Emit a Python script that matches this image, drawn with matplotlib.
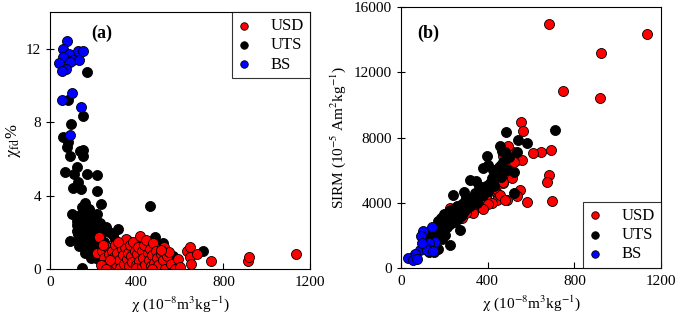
import numpy as np
import matplotlib
matplotlib.use("Agg")
import matplotlib.pyplot as plt

plt.rcParams['font.family'] = 'serif'
plt.rcParams['font.serif'] = ['Liberation Serif']
plt.rcParams['mathtext.fontset'] = 'stix'

# Panel (a): chi vs chi_fd%
a_bs_x = [77, 58, 131, 154, 88, 62, 108, 135, 43, 92, 74, 57, 103, 54, 142, 92]
a_bs_y = [12.4, 12.0, 11.9, 11.9, 11.7, 11.55, 11.4, 11.4, 11.25, 11.3, 10.9, 10.8, 9.6, 9.2, 8.85, 7.3]

a_uts_x = [172, 85, 151, 95, 62, 85, 77, 151, 138, 92, 151, 69, 123, 111, 172, 218, 131, 108, 142,
           215, 161, 234, 146, 181, 461, 100, 138, 215, 123, 169, 192, 146, 177, 200, 231, 258, 315,
           123, 154, 185, 215, 92, 292, 135, 161, 203, 246, 146, 485, 523, 354, 708, 569, 385, 431,
           160, 165, 170, 175, 180, 185, 190, 195, 200, 205, 210, 215, 220, 225, 230, 240, 250, 260,
           270, 280, 300, 320, 150, 155, 140, 130, 125, 135, 145, 170, 190, 210, 230]
a_uts_y = [10.75, 9.2, 8.35, 7.9, 7.2, 6.9, 6.65, 6.5, 6.45, 6.15, 6.15, 5.3, 5.55, 5.2, 5.2, 5.1, 4.75,
           4.4, 4.35, 4.25, 3.6, 3.55, 3.4, 3.3, 3.45, 3.0, 2.95, 3.0, 2.6, 2.65, 2.85, 2.3, 2.1, 2.3,
           2.5, 2.3, 2.2, 2.05, 1.75, 1.6, 1.85, 1.55, 1.85, 1.25, 0.9, 0.7, 1.4, 0.05, 1.75, 1.4, 1.6,
           1.0, 0.7, 1.05, 1.4, 2.0, 2.8, 1.2, 2.5, 1.9, 3.1, 2.2, 1.5, 2.7, 1.1, 2.0, 1.6, 2.4, 1.0,
           1.8, 2.1, 1.5, 1.2, 2.0, 0.9, 1.6, 1.3, 1.3, 2.3, 2.1, 1.9, 2.4, 1.6, 2.7, 3.0, 0.6, 0.6, 0.5]

a_usd_x = [228, 215, 240, 250, 255, 265, 270, 280, 285, 290, 295, 300, 305, 310, 320, 325, 330, 335,
           340, 345, 350, 355, 360, 365, 370, 375, 380, 385, 390, 395, 400, 405, 410, 415, 420, 425,
           430, 435, 440, 445, 450, 455, 460, 465, 470, 475, 480, 490, 495, 500, 510, 520, 525, 530,
           540, 550, 560, 575, 590, 600, 630, 645, 648, 650, 680, 745, 915, 920, 1135, 235, 260, 245,
           275, 315, 398, 470, 510]
a_usd_y = [1.75, 0.9, 1.0, 0.6, 0.2, 1.2, 0.8, 0.4, 1.0, 0.1, 0.65, 1.3, 0.3, 0.9, 0.5, 0.05, 1.1, 0.75,
           0.3, 1.2, 1.65, 0.55, 0.9, 0.15, 1.3, 0.7, 0.4, 1.5, 1.0, 0.2, 0.8, 1.2, 0.45, 1.8, 0.05, 1.0,
           0.6, 1.3, 0.25, 1.6, 0.9, 0.5, 1.1, 0.15, 0.75, 1.4, 0.35, 1.0, 0.6, 0.2, 0.85, 0.5, 1.2, 0.0,
           0.7, 0.95, 0.3, 0.0, 0.55, 0.1, 1.0, 1.2, 0.65, 0.3, 0.8, 0.45, 0.45, 0.65, 0.8, 0.2, 0.0, 1.3,
           0.5, 1.5, 0.05, 0.0, 1.05]

# Panel (b): chi vs SIRM
b_bs_x = [142, 100, 92, 157, 131, 115, 88, 65, 49, 34, 57, 75, 122, 149, 97]
b_bs_y = [2490, 2250, 1980, 1590, 1530, 1225, 1125, 880, 610, 610, 510, 550, 1120, 1080, 1570]

b_uts_x = [100, 110, 120, 130, 140, 150, 155, 160, 165, 170, 175, 180, 185, 190, 195, 200, 205, 210,
           215, 220, 225, 230, 235, 240, 245, 250, 255, 260, 265, 270, 275, 280, 285, 290, 295, 300,
           305, 310, 320, 330, 340, 350, 360, 370, 380, 390, 400, 410, 420, 430, 440, 450, 460, 470,
           480, 490, 500, 520, 520, 534, 541, 580, 711, 485, 457, 468, 395, 403, 380, 426, 318, 346,
           241, 291, 272, 226, 170, 150, 190, 205, 130, 360, 300]
b_uts_y = [1400, 1800, 1500, 2100, 1700, 2300, 1900, 2600, 2200, 2900, 2400, 2000, 3100, 2600, 2300,
           3300, 2800, 2500, 3000, 3500, 2700, 3200, 2900, 3600, 3100, 2800, 3400, 3800, 3000, 3500,
           3200, 3900, 3400, 3700, 4100, 3600, 3900, 4300, 3800, 4200, 4600, 4000, 4400, 4800, 4500,
           5000, 4700, 5200, 5500, 5000, 5800, 6200, 5600, 6500, 7100, 6000, 6800, 5900, 4600, 7100,
           7870, 7660, 8440, 8320, 7460, 7150, 6840, 6330, 6130, 6030, 5410, 5310, 4490, 4640, 2350,
           1430, 1200, 1000, 1800, 2000, 1000, 5000, 4300]

b_usd_x = [685, 1134, 923, 746, 918, 554, 565, 648, 608, 694, 683, 672, 697, 583, 549, 534, 518, 534,
           511, 557, 495, 472, 488, 441, 426, 472, 441, 441, 488, 395, 365, 349, 334, 303, 272, 226,
           330, 350, 370, 390, 410, 420, 440, 455, 470, 480, 485, 500, 510, 520, 460, 430, 400, 380,
           250, 280, 300, 230]
b_usd_y = [14975, 14320, 13180, 10830, 10400, 8970, 8380, 7090, 7050, 7250, 5720, 5250, 4090, 4025,
           4800, 4390, 7090, 6640, 6435, 6640, 7500, 6840, 5820, 5925, 5410, 5210, 4600, 4190, 4190,
           4190, 4390, 3780, 3470, 3680, 3575, 3680, 3400, 3900, 4100, 4300, 4700, 4000, 5000, 4500,
           5300, 4200, 5900, 6200, 5500, 6500, 6300, 4900, 3900, 3600, 3300, 3100, 3400, 3550]

RED = '#ff0000'
BLUE = '#0000ff'
S = 52
EW = 0.6
XLABEL = r'$\mathrm{\chi}$ (10$^{-8}$m$^{3}$kg$^{-1}$)'

fig = plt.figure(figsize=(6.85, 3.27), dpi=100)
ax1 = fig.add_axes([0.073, 0.177, 0.3796, 0.786])
ax2 = fig.add_axes([0.5854, 0.180, 0.3796, 0.799])

leg_kw = dict(borderaxespad=0, fancybox=False, edgecolor='black', fontsize=12,
              handlelength=0.8, handletextpad=1.2, labelspacing=0.2, borderpad=0.35,
              markerscale=0.75)

# (a)
h_uts = ax1.scatter(a_uts_x, a_uts_y, s=S, c='black', edgecolors='black', linewidths=EW)
h_usd = ax1.scatter(a_usd_x, a_usd_y, s=S, c=RED, edgecolors='black', linewidths=EW)
h_bs = ax1.scatter(a_bs_x, a_bs_y, s=S, c=BLUE, edgecolors='black', linewidths=EW)
ax1.set_xlim(0, 1200)
ax1.set_ylim(0, 14)
ax1.set_xticks([0, 400, 800, 1200])
ax1.set_yticks([0, 4, 8, 12])
ax1.set_xlabel(XLABEL, fontsize=11)
ax1.set_ylabel(r'$\mathrm{\chi}_{\mathrm{fd}}$%', fontsize=12, labelpad=2)
ax1.text(0.198, 0.918, '(a)', transform=ax1.transAxes, fontsize=13, fontweight='bold',
         ha='center', va='center')
leg1 = ax1.legend([h_usd, h_uts, h_bs], ['USD', 'UTS', 'BS'], loc='upper right', **leg_kw)
leg1.get_frame().set_linewidth(0.8)

# (b)
h2_usd = ax2.scatter(b_usd_x, b_usd_y, s=S, c=RED, edgecolors='black', linewidths=EW)
h2_uts = ax2.scatter(b_uts_x, b_uts_y, s=S, c='black', edgecolors='black', linewidths=EW)
h2_bs = ax2.scatter(b_bs_x, b_bs_y, s=S, c=BLUE, edgecolors='black', linewidths=EW)
ax2.set_xlim(0, 1200)
ax2.set_ylim(0, 16000)
ax2.set_xticks([0, 400, 800, 1200])
ax2.set_yticks([0, 4000, 8000, 12000, 16000])
ax2.set_xlabel(XLABEL, fontsize=11)
ax2.set_ylabel(r'SIRM (10$^{-5}$ Am$^{2}$kg$^{-1}$)', fontsize=11)
ax2.text(0.106, 0.90, '(b)', transform=ax2.transAxes, fontsize=13, fontweight='bold',
         ha='center', va='center')
leg2 = ax2.legend([h2_usd, h2_uts, h2_bs], ['USD', 'UTS', 'BS'], loc='lower right', **leg_kw)
leg2.get_frame().set_linewidth(0.8)

for ax in (ax1, ax2):
    ax.tick_params(axis='x', direction='in', labelsize=11, length=4, width=0.8, pad=5)
    ax.tick_params(axis='y', direction='inout', labelsize=11, length=6, width=0.8)
    for sp in ax.spines.values():
        sp.set_linewidth(0.8)

fig.savefig('out.png', dpi=100)
